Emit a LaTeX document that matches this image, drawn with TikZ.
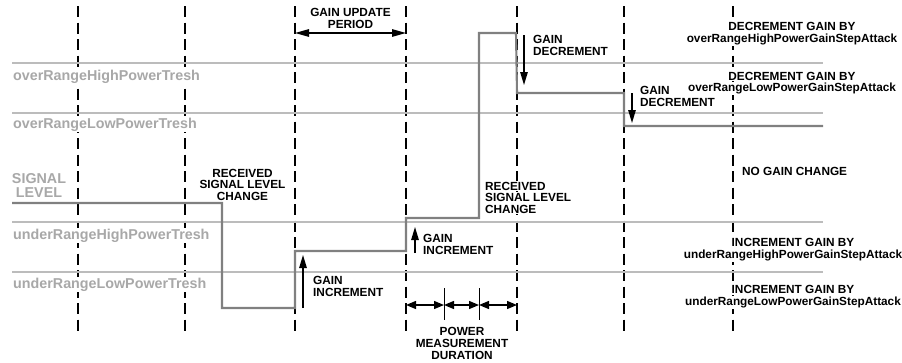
\documentclass[tikz,border=0pt]{standalone}
\usepackage{fontspec}
\setmainfont{Liberation Sans}
\usetikzlibrary{arrows.meta}
\definecolor{thrgrey}{RGB}{188,188,188}
\definecolor{siggrey}{RGB}{128,128,128}
\definecolor{lblgrey}{RGB}{168,168,168}
\begin{document}
\begin{tikzpicture}[x=1pt,y=-1pt,
  guide/.style={black, line width=1.2pt, dash pattern=on 11pt off 5.5pt},
  thr/.style={draw=thrgrey, line width=2pt},
  sig/.style={draw=siggrey, line width=2.1pt, line join=miter},
  lbl/.style={text=lblgrey, font=\fontsize{14.3}{14}\selectfont\bfseries, fill=white, inner sep=1pt},
  txt/.style={text=black, font=\fontsize{11.8}{11.8}\selectfont\bfseries, fill=white, inner sep=1pt},
  bigarr/.style={black, line width=1.3pt, {Triangle[length=14pt,width=7.5pt]}-{Triangle[length=14pt,width=7.5pt]}},
  onearr/.style={black, line width=1.3pt, -{Triangle[length=13pt,width=7.5pt]}},
  pmarr/.style={black, line width=1.3pt, {Triangle[length=10pt,width=8pt]}-{Triangle[length=10pt,width=8pt]}},
  tick/.style={black, line width=1pt}]
\useasboundingbox (0,0) rectangle (902,362);
% vertical dashed guides
\foreach \x [count=\i] in {78,185,295,406,517,624,733} {
  \coordinate (vt\i) at (\x,6);
  \coordinate (vb\i) at (\x,334);
  \draw[guide] (vt\i) -- (vb\i);
}
% grey threshold labels
\node[lbl, anchor=base west] (lOH) at (12,80) {overRangeHighPowerTresh};
\node[lbl, anchor=base west] (lOL) at (12,128) {overRangeLowPowerTresh};
\node[lbl, anchor=base west] (lUH) at (12,239) {underRangeHighPowerTresh};
\node[lbl, anchor=base west] (lUL) at (12,288) {underRangeLowPowerTresh};
\node[lbl, anchor=base] (sigA) at (39,183) {SIGNAL};
\node[lbl, anchor=base] (sigB) at (39,197) {LEVEL};
% black texts
\node[txt, anchor=base] (gu1) at (350.5,16) {GAIN UPDATE};
\node[txt, anchor=base] (gu2) at (350.5,28) {PERIOD};
\node[txt, anchor=base west] (gd1a) at (532,43.5) {GAIN};
\node[txt, anchor=base west] (gd1b) at (532,55) {DECREMENT};
\node[txt, anchor=base west] (gd2a) at (639,94.5) {GAIN};
\node[txt, anchor=base west] (gd2b) at (639,106) {DECREMENT};
\node[txt, anchor=base] (r1a) at (792,30.5) {DECREMENT GAIN BY};
\node[txt, anchor=base] (r1b) at (792,42) {overRangeHighPowerGainStepAttack};
\node[txt, anchor=base] (r2a) at (792,80) {DECREMENT GAIN BY};
\node[txt, anchor=base] (r2b) at (792,91.5) {overRangeLowPowerGainStepAttack};
\node[txt, anchor=base west] (r3) at (741,175) {NO GAIN CHANGE};
\node[txt, anchor=base] (r4a) at (793,246.5) {INCREMENT GAIN BY};
\node[txt, anchor=base] (r4b) at (793,258.5) {underRangeHighPowerGainStepAttack};
\node[txt, anchor=base] (r5a) at (793,293.5) {INCREMENT GAIN BY};
\node[txt, anchor=base] (r5b) at (793,305.5) {underRangeLowPowerGainStepAttack};
\node[txt, anchor=base] (rc1a) at (242.5,177) {RECEIVED};
\node[txt, anchor=base] (rc1b) at (242.5,188.5) {SIGNAL LEVEL};
\node[txt, anchor=base] (rc1c) at (242.5,200) {CHANGE};
\node[txt, anchor=base west] (rc2a) at (484,190) {RECEIVED};
\node[txt, anchor=base west] (rc2b) at (484,201.7) {SIGNAL LEVEL};
\node[txt, anchor=base west] (rc2c) at (484,213.3) {CHANGE};
\node[txt, anchor=base west] (gi2a) at (422,242.3) {GAIN};
\node[txt, anchor=base west] (gi2b) at (422,254) {INCREMENT};
\node[txt, anchor=base west] (gi1a) at (312,284.5) {GAIN};
\node[txt, anchor=base west] (gi1b) at (312,296.5) {INCREMENT};
\node[txt, anchor=base] (pm1) at (462,335) {POWER};
\node[txt, anchor=base] (pm2) at (462,347.3) {MEASUREMENT};
\node[txt, anchor=base] (pm3) at (462,359) {DURATION};
% threshold lines
\coordinate (tOHa) at (12,63);  \coordinate (tOHb) at (823,63);
\coordinate (tOLa) at (12,113); \coordinate (tOLb) at (823,113);
\coordinate (tUHa) at (12,222); \coordinate (tUHb) at (823,222);
\coordinate (tULa) at (12,272); \coordinate (tULb) at (823,272);
\draw[thr] (tOHa) -- (tOHb);
\draw[thr] (tOLa) -- (tOLb);
\draw[thr] (tUHa) -- (tUHb);
\draw[thr] (tULa) -- (tULb);
% signal level trace
\coordinate (s0) at (12,203);
\coordinate (s1) at (222,203);
\coordinate (s2) at (222,308);
\coordinate (s3) at (295,308);
\coordinate (s4) at (295,251);
\coordinate (s5) at (406,251);
\coordinate (s6) at (406,218);
\coordinate (s7) at (479,218);
\coordinate (s8) at (479,33);
\coordinate (s9) at (516,33);
\coordinate (s10) at (517,93);
\coordinate (s11) at (624,93);
\coordinate (s12) at (624,126);
\coordinate (s13) at (823,126);
\draw[sig] (s0) -- (s1) -- (s2) -- (s3) -- (s4) -- (s5) -- (s6) -- (s7) -- (s8) -- (s9) -- (s10) -- (s11) -- (s12) -- (s13);
% gain update period arrow
\coordinate (ga) at (295,33); \coordinate (gb) at (406,33);
\draw[bigarr] (ga) -- (gb);
% gain decrement arrows
\coordinate (d1a) at (524,35); \coordinate (d1b) at (524,85);
\draw[onearr] (d1a) -- (d1b);
\coordinate (d2a) at (632,93); \coordinate (d2b) at (632,123);
\draw[onearr] (d2a) -- (d2b);
% gain increment arrows
\coordinate (i1a) at (303,308); \coordinate (i1b) at (303,255);
\draw[onearr] (i1a) -- (i1b);
\coordinate (i2a) at (415,253); \coordinate (i2b) at (415,227);
\draw[onearr] (i2a) -- (i2b);
% power measurement duration
\coordinate (p0) at (406,305);
\coordinate (p1) at (444,305);
\coordinate (p2) at (479,305);
\coordinate (p3) at (517,305);
\draw[pmarr] (p0) -- (p1);
\draw[pmarr] (p1) -- (p2);
\draw[pmarr] (p2) -- (p3);
\coordinate (k1a) at (444,288); \coordinate (k1b) at (444,320);
\coordinate (k2a) at (479,288); \coordinate (k2b) at (479,320);
\draw[tick] (k1a) -- (k1b);
\draw[tick] (k2a) -- (k2b);
\end{tikzpicture}
\end{document}
